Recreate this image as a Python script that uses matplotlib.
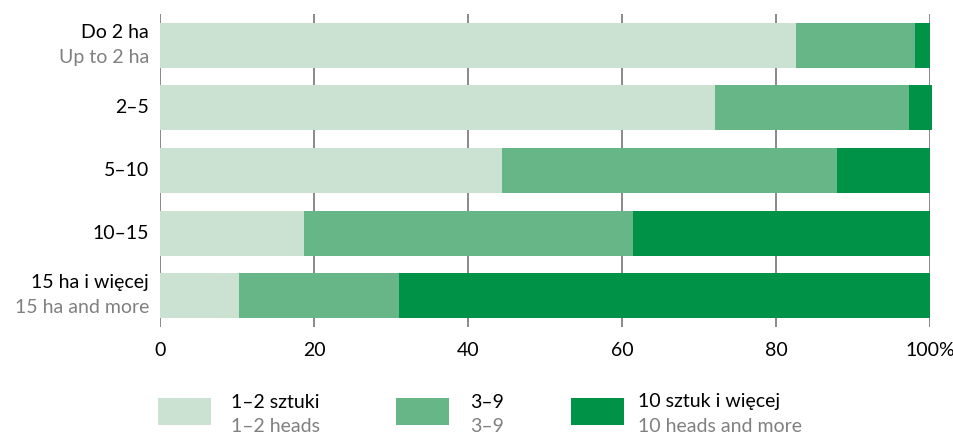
import matplotlib
matplotlib.use("Agg")
import matplotlib.pyplot as plt
from matplotlib.patches import Rectangle
import numpy as np

plt.rcParams['font.family'] = ['Lato', 'DejaVu Sans']

# Data
categories_pl = ["Do 2 ha", "2–5", "5–10", "10–15", "15 ha i więcej"]
categories_en = ["Up to 2 ha", "", "", "", "15 ha and more"]
heads_1_2 = [82.6, 72.1, 44.4, 18.7, 10.3]
heads_3_9 = [15.5, 25.2, 43.5, 42.7, 20.7]
heads_10_plus = [1.9, 3.0, 12.1, 38.6, 69.0]
series_pl = ["1–2 sztuki", "3–9", "10 sztuk i więcej"]
series_en = ["1–2 heads", "3–9", "10 heads and more"]
xticks = [0, 20, 40, 60, 80, 100]
xticklabels = ["0", "20", "40", "60", "80", "100%"]

colors = ["#cbe2d3", "#67b687", "#009247"]
gray = "#808080"
FS = 14

W, H = 954, 434
fig = plt.figure(figsize=(W / 100, H / 100), dpi=100)
ax = fig.add_axes([160 / W, 1 - 327 / H, (930 - 160) / W, (327 - 14) / H])

y = np.arange(len(categories_pl))
left = np.zeros(len(y))
for vals, c in zip([heads_1_2, heads_3_9, heads_10_plus], colors):
    bars = ax.barh(y, vals, left=left, height=0.72, color=c, zorder=2, linewidth=0)
    for b in bars:
        b.set_clip_on(False)
    left = left + np.array(vals)

ax.set_xlim(0, 100)
ax.set_ylim(len(y) - 0.5, -0.5)
for t in xticks:
    ax.axvline(t, color=gray, linewidth=1.3, zorder=1)
for s in ax.spines.values():
    s.set_visible(False)
ax.set_xticks(xticks)
ax.set_xticklabels(xticklabels, fontsize=FS)
ax.tick_params(axis='x', length=0, pad=11)
ax.set_yticks([])

trans = matplotlib.transforms.blended_transform_factory(ax.transAxes, ax.transData)
for i, (pl, en) in enumerate(zip(categories_pl, categories_en)):
    if en:
        ax.text(-11 / 770, i - 0.21, pl, transform=trans, ha='right', va='center',
                fontsize=FS, color='black')
        ax.text(-11 / 770, i + 0.19, en, transform=trans, ha='right', va='center',
                fontsize=FS, color=gray)
    else:
        ax.text(-11 / 770, i, pl, transform=trans, ha='right', va='center',
                fontsize=FS, color='black')

# Legend
patch_x = [158, 396, 571]
text_x = [231, 470, 638]
for px, tx, c, pl, en in zip(patch_x, text_x, colors, series_pl, series_en):
    fig.patches.append(Rectangle((px / W, 1 - 425 / H), 53 / W, 27 / H,
                                 transform=fig.transFigure, color=c, linewidth=0))
    fig.text(tx / W, 1 - 402 / H, pl, ha='left', va='center', fontsize=FS, color='black')
    fig.text(tx / W, 1 - 426 / H, en, ha='left', va='center', fontsize=FS, color=gray)

fig.savefig("out.png", dpi=100)
